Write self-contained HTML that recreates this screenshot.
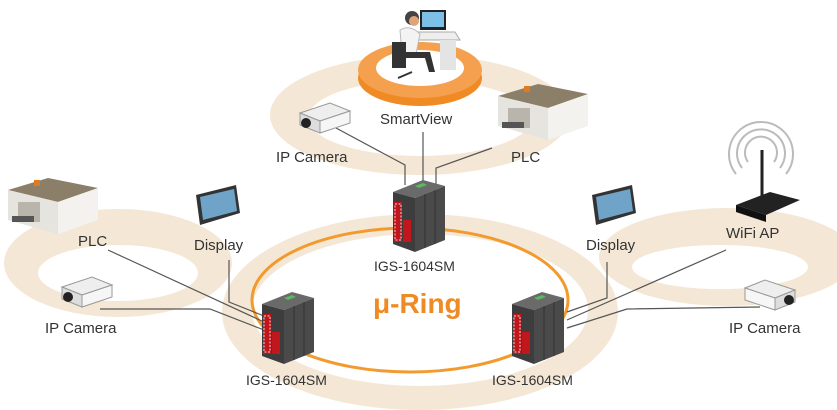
<!DOCTYPE html>
<html><head><meta charset="utf-8"><style>
html,body{margin:0;padding:0;background:#fff}
svg{display:block}
text{font-family:"Liberation Sans",Arial,sans-serif;fill:#333}
</style></head><body>
<svg width="837" height="410" viewBox="0 0 837 410" xmlns="http://www.w3.org/2000/svg">
<defs>
<g id="sw">
 <polygon points="0,12 30,0 52,6 22,18" fill="#6a6a6a"/>
 <polygon points="0,12 22,18 22,72 0,64" fill="#3d3d3d"/>
 <polygon points="22,18 52,6 52,60 22,72" fill="#4a4a4a"/>
 <line x1="32" y1="14" x2="32" y2="68" stroke="#333"/>
 <line x1="42" y1="10" x2="42" y2="64" stroke="#333"/>
 <rect x="1" y="22" width="8" height="40" fill="#c0171c"/>
 <rect x="10" y="40" width="8" height="22" fill="#c0171c"/>
 <rect x="2" y="24" width="6" height="36" fill="none" stroke="#ddd" stroke-dasharray="2 1.5"/>
 <polygon points="22,6 30,3 34,5 26,8" fill="#5cb85c"/>
</g>
<g id="plc">
 <polygon points="0,18 40,6 90,16 50,30" fill="#8c7f6a"/>
 <polygon points="0,18 50,30 50,62 0,48" fill="#e6e4de"/>
 <polygon points="50,30 90,16 90,48 50,62" fill="#f3f2ee"/>
 <rect x="10" y="30" width="22" height="20" fill="#b9b5ac"/>
 <rect x="4" y="44" width="22" height="6" fill="#555"/>
 <rect x="26" y="8" width="6" height="6" fill="#e07a1e"/>
</g>
<g id="cam">
 <polygon points="0,10 30,0 50,8 20,18" fill="#eee" stroke="#999"/>
 <polygon points="0,10 20,18 20,30 0,22" fill="#ddd" stroke="#999"/>
 <polygon points="20,18 50,8 50,20 20,30" fill="#f6f6f6" stroke="#999"/>
 <circle cx="6" cy="20" r="5" fill="#222"/>
</g>
<g id="disp">
 <polygon points="0,10 40,0 44,28 4,40" fill="#333"/>
 <polygon points="4,12 38,4 41,26 7,35" fill="#6fa3c7"/>
</g>
</defs>

<!-- tan bands -->
<ellipse cx="420" cy="115" rx="150" ry="60" fill="#f4e7d5"/>
<ellipse cx="420" cy="118" rx="112" ry="38" fill="#fff"/>
<ellipse cx="118" cy="263" rx="114" ry="54" fill="#f4e7d5"/>
<ellipse cx="118" cy="273" rx="80" ry="28" fill="#fff"/>
<ellipse cx="727" cy="257" rx="128" ry="49" fill="#f4e7d5"/>
<ellipse cx="720" cy="267" rx="88" ry="22" fill="#fff"/>
<ellipse cx="420" cy="312" rx="198" ry="98" fill="#f4e7d5"/>
<ellipse cx="420" cy="310" rx="168" ry="76" fill="#fff"/>
<ellipse cx="410" cy="300" rx="158" ry="72" fill="none" stroke="#f29a2e" stroke-width="3"/>

<!-- top orange disk -->
<ellipse cx="420" cy="78" rx="62" ry="28" fill="#f08a24"/>
<ellipse cx="420" cy="70" rx="62" ry="28" fill="#f5a04e"/>
<ellipse cx="420" cy="68" rx="44" ry="18" fill="#fff"/>
<!-- person/desk -->
<rect x="420" y="10" width="26" height="20" fill="#222"/><rect x="422" y="12" width="22" height="15" fill="#7cc0e8"/>
<polygon points="410,32 455,32 460,40 415,40" fill="#eee" stroke="#aaa"/>
<rect x="440" y="40" width="16" height="30" fill="#e4e4e4"/>
<circle cx="412" cy="18" r="7" fill="#444"/><circle cx="414" cy="21" r="5" fill="#e2a37a"/>
<path d="M400,30 q10,-6 20,4 l-4,20 h-14z" fill="#f3f3f3" stroke="#bbb"/>
<rect x="392" y="42" width="14" height="26" fill="#333"/>
<path d="M405,52 l25,0 l5,20 l-6,0 l-4,-14 l-20,0z" fill="#333"/>
<line x1="398" y1="78" x2="412" y2="72" stroke="#333" stroke-width="2"/>

<!-- connector lines -->
<g stroke="#555" stroke-width="1.2" fill="none">
 <polyline points="336,128 405,165 405,185"/>
 <line x1="423" y1="132" x2="423" y2="182"/>
 <polyline points="492,148 436,168 436,185"/>
 <line x1="108" y1="250" x2="264" y2="322"/>
 <polyline points="100,309 210,309 264,330"/>
 <polyline points="229,260 229,302 264,316"/>
 <polyline points="607,262 607,298 567,312"/>
 <line x1="726" y1="250" x2="567" y2="320"/>
 <polyline points="760,307 627,309 567,328"/>
</g>

<!-- devices -->
<use href="#sw" x="393" y="180"/>
<use href="#sw" x="262" y="292"/>
<use href="#sw" x="512" y="292"/>
<use href="#plc" x="8" y="172"/>
<use href="#plc" x="498" y="78"/>
<use href="#cam" x="300" y="103"/>
<use href="#cam" x="62" y="277"/>
<g transform="translate(795,280) scale(-1,1)"><use href="#cam"/></g>
<use href="#disp" x="196" y="185"/>
<use href="#disp" x="592" y="185"/>
<!-- wifi AP -->
<g fill="none" stroke="#bbb" stroke-width="2">
 <path d="M748,162 a16,16 0 1,1 26,0"/>
 <path d="M742,168 a24,24 0 1,1 38,0"/>
 <path d="M736,174 a32,32 0 1,1 50,0"/>
</g>
<line x1="762" y1="150" x2="762" y2="200" stroke="#222" stroke-width="3"/>
<polygon points="736,205 770,192 800,200 766,215" fill="#222"/>
<polygon points="736,205 766,215 766,222 736,212" fill="#111"/>

<!-- labels -->
<g font-size="15">
<text x="380" y="124">SmartView</text>
<text x="276" y="162">IP Camera</text>
<text x="511" y="162">PLC</text>
<text x="78" y="246">PLC</text>
<text x="194" y="250">Display</text>
<text x="45" y="333">IP Camera</text>
<text x="586" y="250">Display</text>
<text x="726" y="238">WiFi AP</text>
<text x="729" y="333">IP Camera</text>
<text x="374" y="271" font-size="14">IGS-1604SM</text>
<text x="246" y="385" font-size="14">IGS-1604SM</text>
<text x="492" y="385" font-size="14">IGS-1604SM</text>
</g>
<text x="373" y="313" font-size="28" font-weight="bold" style="fill:#f08a24">μ-Ring</text>
</svg>
</body></html>
